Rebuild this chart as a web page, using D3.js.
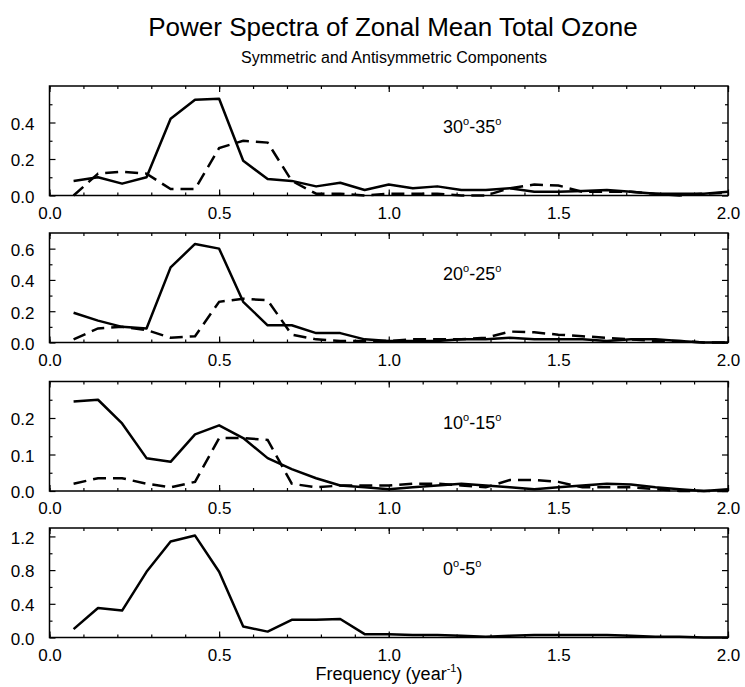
<!DOCTYPE html>
<html>
<head>
<meta charset="utf-8">
<script src="https://cdn.jsdelivr.net/npm/d3@7"></script>
<style>
  body { margin: 0; background: #fff; }
  svg { font-family: "Liberation Sans", Arial, Helvetica, sans-serif; }
  .tick text { font-size: 17px; fill: #000; }
  .domain { display: none; }
  .tick line { stroke: #000; stroke-width: 1.2; }
</style>
</head>
<body>
<div id="chart"></div>
<script>
// frequency (year^-1), one point every 1/14
const freq = [0.071, 0.143, 0.214, 0.286, 0.357, 0.429, 0.500, 0.571, 0.643, 0.714,
              0.786, 0.857, 0.929, 1.000, 1.071, 1.143, 1.214, 1.286, 1.357, 1.429,
              1.500, 1.571, 1.643, 1.714, 1.786, 1.857, 1.929, 2.000];

const panelLabels = ["30", "20", "10", "0"];
const panelLabelEnds = ["35", "25", "15", "5"];

// solid = symmetric, dashed = antisymmetric
const sym30 = [0.08, 0.10, 0.065, 0.10, 0.42, 0.525, 0.53, 0.19, 0.09, 0.08,
               0.05, 0.07, 0.03, 0.06, 0.04, 0.05, 0.03, 0.03, 0.04, 0.02,
               0.02, 0.025, 0.03, 0.02, 0.01, 0.01, 0.01, 0.02];
const anti30 = [0.0, 0.12, 0.13, 0.12, 0.035, 0.035, 0.26, 0.30, 0.29, 0.08,
                0.01, 0.01, 0.0, 0.01, 0.01, 0.01, 0.0, 0.0, 0.04, 0.06,
                0.055, 0.02, 0.02, 0.02, 0.01, 0.0, 0.01, 0.015];

const sym20 = [0.19, 0.14, 0.10, 0.09, 0.48, 0.63, 0.60, 0.26, 0.11, 0.11,
               0.06, 0.06, 0.02, 0.01, 0.01, 0.01, 0.02, 0.02, 0.03, 0.02,
               0.02, 0.02, 0.01, 0.02, 0.02, 0.01, 0.0, 0.0];
const anti20 = [0.02, 0.09, 0.10, 0.08, 0.03, 0.04, 0.26, 0.28, 0.27, 0.05,
                0.02, 0.01, 0.01, 0.01, 0.02, 0.02, 0.02, 0.03, 0.07, 0.065,
                0.05, 0.04, 0.03, 0.02, 0.01, 0.01, 0.0, 0.0];

const sym10 = [0.245, 0.25, 0.185, 0.09, 0.08, 0.155, 0.18, 0.145, 0.09, 0.06,
               0.035, 0.015, 0.01, 0.005, 0.01, 0.015, 0.02, 0.015, 0.01, 0.005,
               0.01, 0.015, 0.02, 0.018, 0.01, 0.005, 0.0, 0.005];
const anti10 = [0.02, 0.035, 0.035, 0.02, 0.01, 0.025, 0.145, 0.145, 0.14, 0.02,
                0.01, 0.015, 0.015, 0.015, 0.02, 0.02, 0.015, 0.01, 0.03, 0.03,
                0.025, 0.01, 0.01, 0.01, 0.005, 0.0, 0.0, 0.0];

const sym0 = [0.10, 0.35, 0.32, 0.78, 1.14, 1.21, 0.78, 0.13, 0.07, 0.21,
              0.21, 0.22, 0.04, 0.04, 0.03, 0.03, 0.02, 0.01, 0.02, 0.03,
              0.03, 0.03, 0.03, 0.02, 0.01, 0.01, 0.0, 0.0];

const yMax = [0.6, 0.7, 0.3, 1.3];
const yTicks = [[0.0, 0.2, 0.4], [0.0, 0.2, 0.4, 0.6], [0.0, 0.1, 0.2], [0.0, 0.4, 0.8, 1.2]];
const yMinor = [[0.1, 0.3, 0.5], [0.1, 0.3, 0.5], [0.05, 0.15, 0.25], [0.2, 0.6, 1.0]];
const xTicks = [0.0, 0.5, 1.0, 1.5, 2.0];
const xMinor = d3.range(0, 2.01, 0.1);

const panels = [
  {sym: sym30, anti: anti30},
  {sym: sym20, anti: anti20},
  {sym: sym10, anti: anti10},
  {sym: sym0, anti: null}
];

const width = 745, height = 687;
const left = 49.5, right = 728;
const tops = [86, 233, 381.5, 528];
const panelH = 109.5;

const svg = d3.select("#chart").append("svg")
    .attr("width", width)
    .attr("height", height);

svg.append("text")
    .attr("x", 393).attr("y", 36)
    .attr("text-anchor", "middle")
    .style("font-size", "26px")
    .text("Power Spectra of Zonal Mean Total Ozone");

svg.append("text")
    .attr("x", 394).attr("y", 63)
    .attr("text-anchor", "middle")
    .style("font-size", "16px")
    .text("Symmetric and Antisymmetric Components");

const x = d3.scaleLinear().domain([0, 2]).range([left, right]);

// raised little "o" / exponent inside a text element
function sup(t, s) {
  t.append("tspan").attr("dy", "-8").style("font-size", "11px").text(s);
}
function unsup(t, s) {
  t.append("tspan").attr("dy", "8").text(s);
}

panels.forEach((p, i) => {
  const top = tops[i], bottom = top + panelH;
  const y = d3.scaleLinear().domain([0, yMax[i]]).range([bottom, top]);
  const g = svg.append("g");

  // ticks (inward), bottom with labels
  g.append("g").attr("transform", `translate(0,${bottom})`)
    .call(d3.axisBottom(x).tickValues(xTicks).tickSize(-6).tickPadding(11).tickFormat(d3.format(".1f")));
  g.append("g").attr("transform", `translate(0,${bottom})`)
    .call(d3.axisBottom(x).tickValues(xMinor).tickSize(-3).tickFormat(""));
  g.append("g").attr("transform", `translate(0,${top})`)
    .call(d3.axisTop(x).tickValues(xTicks).tickSize(-6).tickFormat(""));
  g.append("g").attr("transform", `translate(0,${top})`)
    .call(d3.axisTop(x).tickValues(xMinor).tickSize(-3).tickFormat(""));

  g.append("g").attr("transform", `translate(${left},0)`)
    .call(d3.axisLeft(y).tickValues(yTicks[i]).tickSize(-6).tickPadding(15).tickFormat(d3.format(".1f")))
    .selectAll("text").attr("dy", "0.4em");
  g.append("g").attr("transform", `translate(${left},0)`)
    .call(d3.axisLeft(y).tickValues(yMinor[i]).tickSize(-3).tickFormat(""));
  g.append("g").attr("transform", `translate(${right},0)`)
    .call(d3.axisRight(y).tickValues(yTicks[i]).tickSize(-6).tickFormat(""));
  g.append("g").attr("transform", `translate(${right},0)`)
    .call(d3.axisRight(y).tickValues(yMinor[i]).tickSize(-3).tickFormat(""));

  g.append("rect")
    .attr("x", left).attr("y", top)
    .attr("width", right - left).attr("height", panelH)
    .attr("fill", "none").attr("stroke", "#000").attr("stroke-width", 1.5);

  const line = d3.line()
    .x((d, k) => x(freq[k]))
    .y(d => y(d));

  if (p.anti) {
    g.append("path").datum(p.anti)
      .attr("d", line)
      .attr("fill", "none").attr("stroke", "#000")
      .attr("stroke-width", 2.5)
      .attr("stroke-dasharray", "13,7");
  }
  g.append("path").datum(p.sym)
    .attr("d", line)
    .attr("fill", "none").attr("stroke", "#000")
    .attr("stroke-width", 2.5)
    .attr("stroke-linejoin", "round");

  const lab = g.append("text")
    .attr("x", x(1.16)).attr("y", top + 47)
    .style("font-size", "18px");
  lab.append("tspan").text(panelLabels[i]);
  sup(lab, "o");
  unsup(lab, "-" + panelLabelEnds[i]);
  sup(lab, "o");
});

const xl = svg.append("text")
    .attr("x", 389).attr("y", 680)
    .attr("text-anchor", "middle")
    .style("font-size", "18px");
xl.append("tspan").text("Frequency (year");
sup(xl, "-1");
unsup(xl, ")");
</script>
</body>
</html>
